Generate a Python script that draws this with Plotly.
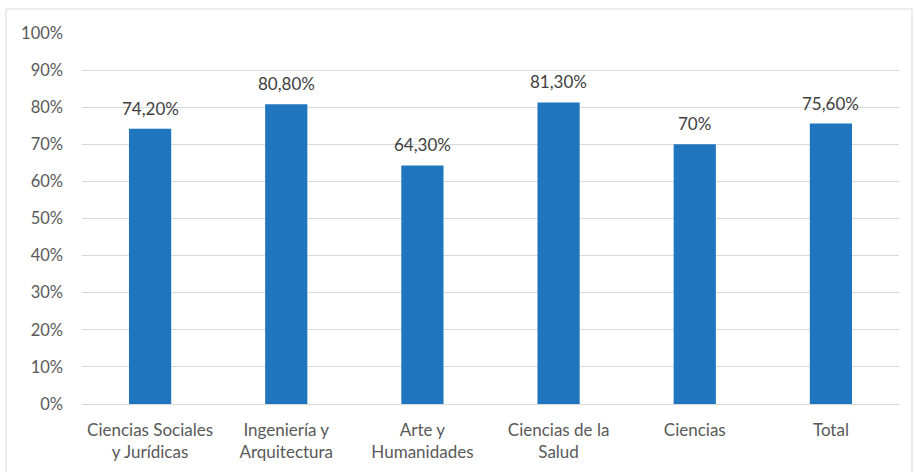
import plotly.graph_objects as go

categories = ["Ciencias Sociales<br>y Jurídicas", "Ingeniería y<br>Arquitectura",
              "Arte y<br>Humanidades", "Ciencias de la<br>Salud", "Ciencias", "Total"]
values = [74.2, 80.8, 64.3, 81.3, 70.0, 75.6]
value_labels = ["74,20%", "80,80%", "64,30%", "81,30%", "70%", "75,60%"]
y_ticks = list(range(0, 101, 10))
y_tick_labels = [f"{t}%" for t in y_ticks]

W, H = 914, 472
ml, mr, mt, mb = 82, 15, 33, 68
pw, ph = W - ml - mr, H - mt - mb
FONT = "Lato, sans-serif"

fig = go.Figure(go.Bar(
    x=categories, y=values,
    marker=dict(color="#1f75be", line=dict(width=0)),
    hoverinfo="skip",
))

# value labels sit a bit above each bar, like Excel data labels
for cat, val, lab in zip(categories, values, value_labels):
    fig.add_annotation(x=cat, y=val, text=lab, showarrow=False,
                       yanchor="bottom", yshift=8,
                       font=dict(family=FONT, size=17, color="#404040"))

fig.update_layout(
    width=W, height=H,
    margin=dict(l=ml, r=mr, t=mt, b=mb),
    paper_bgcolor="white", plot_bgcolor="white",
    bargap=0.69, showlegend=False,
    font=dict(family=FONT, size=17, color="#595959"),
)
fig.update_yaxes(range=[0, 100], tickvals=y_ticks, ticktext=y_tick_labels,
                 showgrid=True, gridcolor="#d9d9d9", gridwidth=1,
                 zeroline=True, zerolinecolor="#d9d9d9", zerolinewidth=1,
                 showline=False, ticks="", ticklabelstandoff=18,
                 automargin=False,
                 tickfont=dict(size=16.5, color="#595959"))
fig.update_xaxes(showgrid=False, showline=False, ticks="",
                 ticklabelstandoff=14, automargin=False,
                 tickfont=dict(size=17, color="#595959"))

# chart border (like the Excel chart area frame)
fig.add_shape(type="rect", xref="paper", yref="paper",
              x0=(6 - ml) / pw, x1=(912 - ml) / pw,
              y0=(mt + ph - 480) / ph, y1=(mt + ph - 9) / ph,
              line=dict(color="#d9d9d9", width=1), layer="below")

fig.write_html("out.html", config={"displayModeBar": False},
               post_script="document.body.style.margin='0px';")
